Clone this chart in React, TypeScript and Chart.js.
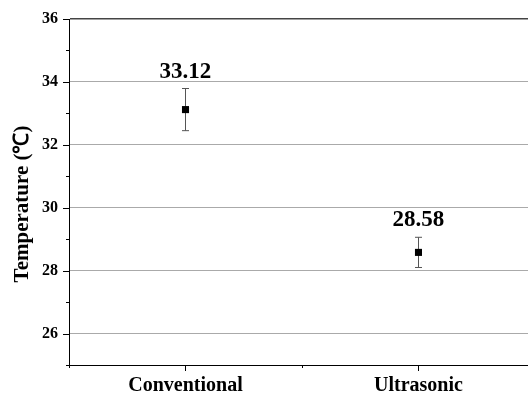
import React, { useEffect, useRef } from "react";
import { Chart, registerables } from "chart.js";

Chart.register(...registerables);

const categories = ["Conventional", "Ultrasonic"];
const meanValues = [33.12, 28.58];
const errorValues = [0.67, 0.48];
const valueLabels = ["33.12", "28.58"];
const yTickValues = [26, 28, 30, 32, 34, 36];
const yMinorValues = [25, 27, 29, 31, 33, 35];
const yTitle = "Temperature (℃)";

const FONT = '"Liberation Serif", "Times New Roman", serif';

const decorPlugin = {
  id: "decor",
  beforeDatasetsDraw(chart: any) {
    const { ctx, scales } = chart;
    const xs = scales.x;
    const ys = scales.y;
    ctx.save();
    ctx.strokeStyle = "#555";
    ctx.lineWidth = 1;
    meanValues.forEach((m, i) => {
      const x = Math.round(xs.getPixelForValue(i + 1)) + 0.5;
      const yt = ys.getPixelForValue(m + errorValues[i]);
      const yb = ys.getPixelForValue(m - errorValues[i]);
      ctx.beginPath();
      ctx.moveTo(x, yt);
      ctx.lineTo(x, yb);
      ctx.moveTo(x - 3.5, yt);
      ctx.lineTo(x + 3.5, yt);
      ctx.moveTo(x - 3.5, yb);
      ctx.lineTo(x + 3.5, yb);
      ctx.stroke();
    });
    ctx.restore();
  },
  afterDatasetsDraw(chart: any) {
    const { ctx, scales, chartArea } = chart;
    const xs = scales.x;
    const ys = scales.y;
    ctx.save();
    // value labels
    ctx.fillStyle = "#000";
    ctx.font = "bold 23px " + FONT;
    ctx.textAlign = "center";
    ctx.textBaseline = "alphabetic";
    meanValues.forEach((m, i) => {
      const x = xs.getPixelForValue(i + 1);
      const yt = ys.getPixelForValue(m + errorValues[i]);
      ctx.fillText(valueLabels[i], x, yt - 11);
    });
    // y title
    ctx.save();
    ctx.font = "bold 21px " + FONT;
    ctx.textAlign = "center";
    ctx.textBaseline = "alphabetic";
    ctx.translate(28, (chartArea.top + chartArea.bottom) / 2 + 12);
    ctx.rotate(-Math.PI / 2);
    ctx.fillText(yTitle, 0, 0);
    ctx.restore();
    // y ticks
    ctx.strokeStyle = "#000";
    ctx.lineWidth = 1;
    const left = chartArea.left;
    yTickValues.forEach((v) => {
      const y = Math.round(ys.getPixelForValue(v)) + 0.5;
      ctx.beginPath();
      ctx.moveTo(left - 6, y);
      ctx.lineTo(left, y);
      ctx.stroke();
    });
    yMinorValues.forEach((v) => {
      const y = Math.round(ys.getPixelForValue(v)) + 0.5;
      ctx.beginPath();
      ctx.moveTo(left - 3, y);
      ctx.lineTo(left, y);
      ctx.stroke();
    });
    // x ticks
    const bottom = chartArea.bottom;
    categories.forEach((_, i) => {
      const x = Math.round(xs.getPixelForValue(i + 1)) + 0.5;
      ctx.beginPath();
      ctx.moveTo(x, bottom);
      ctx.lineTo(x, bottom + 6);
      ctx.stroke();
    });
    [0.5, 1.5, 2.5].forEach((v) => {
      const x = Math.round(xs.getPixelForValue(v)) + 0.5;
      ctx.beginPath();
      ctx.moveTo(x, bottom);
      ctx.lineTo(x, bottom + 3);
      ctx.stroke();
    });
    ctx.restore();
  },
};

export default function App() {
  const ref = useRef<HTMLCanvasElement | null>(null);
  useEffect(() => {
    if (!ref.current) return;
    const chart = new Chart(ref.current, {
      type: "scatter",
      data: {
        datasets: [
          {
            data: meanValues.map((v, i) => ({ x: i + 1, y: v })),
            pointStyle: "rect",
            pointRadius: 5,
            pointBackgroundColor: "#000",
            pointBorderColor: "#000",
            pointBorderWidth: 0,
            showLine: false,
          },
        ],
      },
      options: {
        responsive: false,
        animation: false,
        layout: { autoPadding: false, padding: { top: 19, right: 0, left: 0, bottom: 0 } },
        plugins: { legend: { display: false }, tooltip: { enabled: false } },
        scales: {
          x: {
            type: "linear",
            min: 0.5,
            max: 2.47,
            afterFit: (s: any) => {
              s.height = 29;
              s.paddingLeft = 0;
              s.paddingRight = 0;
            },
            afterBuildTicks: (s: any) => {
              s.ticks = categories.map((_, i) => ({ value: i + 1 }));
            },
            ticks: {
              autoSkip: false,
              maxRotation: 0,
              padding: 9,
              color: "#000",
              font: { family: FONT, size: 20, weight: "bold" },
              callback: (v: any) => categories[Math.round(Number(v)) - 1] ?? "",
            },
            grid: { drawOnChartArea: false, drawTicks: false },
            border: { display: true, color: "#000", width: 1 },
          },
          y: {
            type: "linear",
            min: 25,
            max: 36,
            afterFit: (s: any) => {
              s.width = 69;
              s.paddingTop = 0;
              s.paddingBottom = 0;
            },
            afterBuildTicks: (s: any) => {
              s.ticks = yTickValues.map((v) => ({ value: v }));
            },
            ticks: {
              padding: 11,
              color: "#000",
              font: { family: FONT, size: 16, weight: "bold" },
            },
            grid: {
              drawTicks: false,
              color: (c: any) => (c.tick && c.tick.value === 36 ? "#444" : "#aaa"),
              lineWidth: (c: any) => (c.tick && c.tick.value === 36 ? 1.5 : 1),
            },
            border: { display: true, color: "#000", width: 1 },
          },
        },
      },
      plugins: [decorPlugin],
    });
    return () => chart.destroy();
  }, []);
  return (
    <div style={{ position: "fixed", left: 0, top: 0, width: 528, height: 394, background: "#fff", overflow: "hidden" }}>
      <canvas ref={ref} width={528} height={394} style={{ display: "block" }} />
    </div>
  );
}
